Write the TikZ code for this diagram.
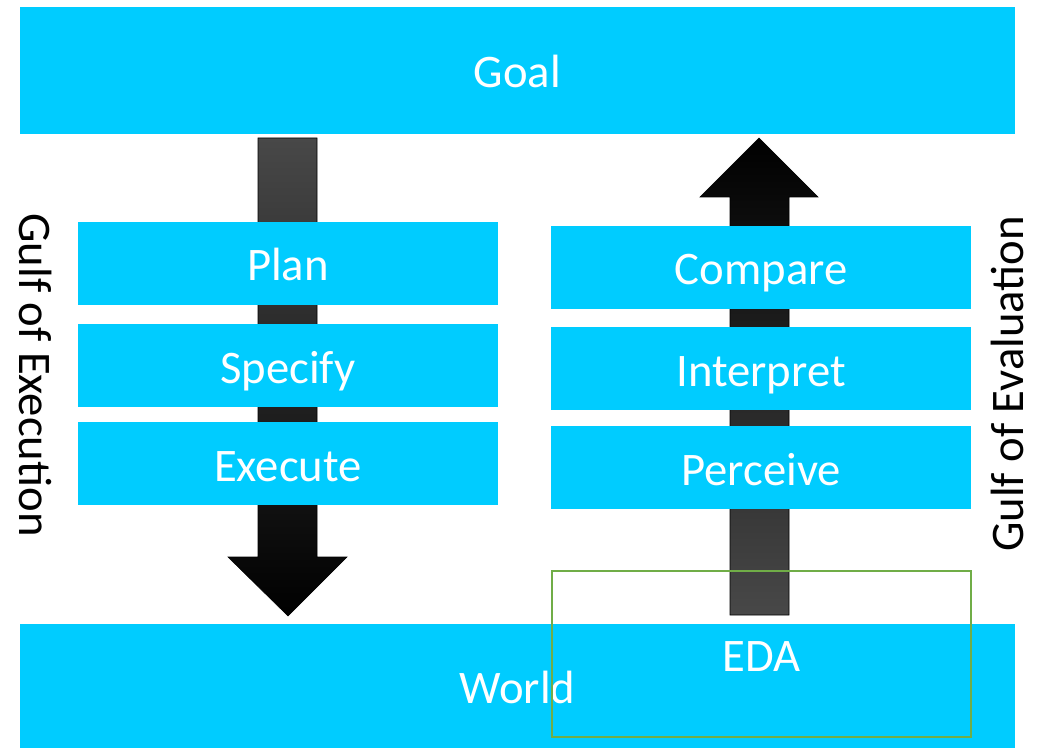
\documentclass[tikz,border=0pt]{standalone}
\usepackage{fontspec}
\setmainfont{Carlito}
\definecolor{boxcyan}{RGB}{0,204,255}
\definecolor{edagreen}{RGB}{112,173,71}
\definecolor{shaftgrey}{RGB}{72,72,72}

\begin{document}
\begin{tikzpicture}[x=0.75pt, y=-0.75pt,
		bar/.style={rectangle, fill=boxcyan, inner sep=0pt, text=white, font=\fontsize{35}{42}\selectfont, text height=28pt, text depth=1.75pt},
		stage/.style={bar, minimum width=315pt, minimum height=62.25pt},
		gulf/.style={inner sep=0pt, font=\fontsize{35}{42}\selectfont}]
				\useasboundingbox (0,0) rectangle (1038,748);
				% big arrows behind the stages
				\shade[top color=shaftgrey, bottom color=black, draw=black, line width=0.4pt]
					(258,138) -- (317,138) -- (317,557) -- (347,557) -- (288,616) -- (228,557) -- (258,557) -- cycle;
				\shade[top color=black, bottom color=shaftgrey, draw=black, line width=0.4pt]
					(730,615) -- (789,615) -- (789,197) -- (818,197) -- (759,138) -- (700,197) -- (730,197) -- cycle;
				
				\node[bar, minimum width=746.25pt, minimum height=95.25pt] (goal) at (517.5,70.5) {Goal};
				\node[bar, minimum width=746.25pt, minimum height=93pt] (world) at (517.5,686) {World};
				
				% gulf of execution
				\node[stage] (plan) at (288,263.5) {Plan};
				\node[stage] (specify) at (288,365.5) {Specify};
				\node[stage] (execute) at (288,463.5) {Execute};
				
				% gulf of evaluation
				\node[stage] (compare) at (761,267.5) {Compare};
				\node[stage] (interpret) at (761,368.5) {Interpret};
				\node[stage] (perceive) at (761,467.5) {Perceive};
				
				\node[draw=edagreen, line width=1.5pt, inner sep=0pt, minimum width=314.25pt, minimum height=124.5pt, text=white, font=\fontsize{35}{42}\selectfont, text height=28pt, text depth=1.75pt] (eda) at (761.5,654) {EDA};
				
				\node[gulf, rotate=-90] (gexec) at (36,375) {Gulf of Execution};
				\node[gulf, rotate=90] (geval) at (1007,384) {Gulf of Evaluation};
		\end{tikzpicture}
\end{document}
